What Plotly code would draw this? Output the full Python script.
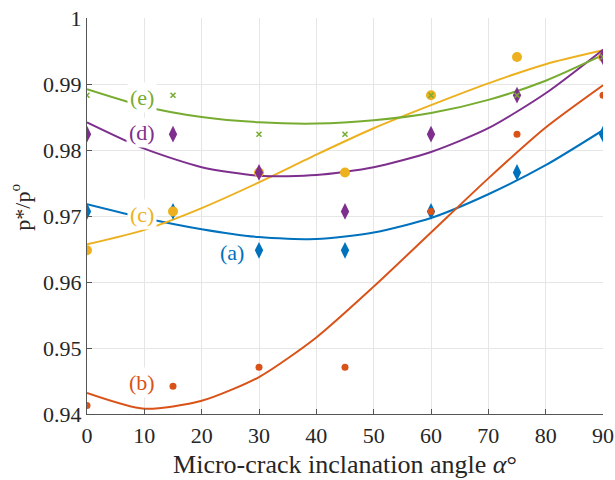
import plotly.graph_objects as go

angles = [0, 15, 30, 45, 60, 75, 90]
a_pts = [0.9707, 0.9707, 0.9648, 0.9648, 0.9707, 0.9766, 0.9824]
b_pts = [0.9413, 0.9442, 0.9471, 0.9471, 0.9707, 0.9824, 0.9883]
c_pts = [0.9648, 0.9707, 0.9766, 0.9766, 0.9883, 0.9941, 0.9941]
d_pts = [0.9824, 0.9824, 0.9766, 0.9707, 0.9824, 0.9883, 0.9941]
e_pts = [0.9883, 0.9883, 0.9824, 0.9824, 0.9883, 0.9883, 0.9941]

fit_x = [0, 10, 20, 30, 40, 50, 60, 70, 80, 90]
a_fit = [0.9718, 0.9697, 0.9680, 0.9668, 0.9665, 0.9675, 0.9697, 0.9733, 0.9777, 0.9830]
b_fit = [0.9432, 0.9408, 0.9420, 0.9456, 0.9516, 0.9593, 0.9675, 0.9757, 0.9834, 0.9898]
c_fit = [0.9657, 0.9679, 0.9712, 0.9751, 0.9793, 0.9833, 0.9868, 0.9901, 0.9930, 0.9951]
d_fit = [0.9842, 0.9802, 0.9774, 0.9761, 0.9762, 0.9774, 0.9797, 0.9833, 0.9886, 0.9952]
e_fit = [0.9892, 0.9866, 0.9850, 0.9842, 0.9840, 0.9845, 0.9856, 0.9876, 0.9905, 0.9944]

labels = ["(a)", "(b)", "(c)", "(d)", "(e)"]
label_x = [25.3, 9.6, 9.6, 9.6, 9.6]
label_y = [0.9644, 0.9448, 0.9702, 0.9826, 0.9880]

y_ticks = [0.94, 0.95, 0.96, 0.97, 0.98, 0.99, 1.0]
y_tick_text = ["0.94", "0.95", "0.96", "0.97", "0.98", "0.99", "1"]
x_ticks = [0, 10, 20, 30, 40, 50, 60, 70, 80, 90]

colors = {"a": "#0072BD", "b": "#D95319", "c": "#EDB120", "d": "#7E2F8E", "e": "#77AC30"}
FONT = "Liberation Serif, Times New Roman, serif"
FS = 22

fig = go.Figure()

fits = [("a", a_fit), ("b", b_fit), ("c", c_fit), ("d", d_fit), ("e", e_fit)]
for k, f in fits:
    fig.add_trace(go.Scatter(x=fit_x, y=f, mode="lines",
                             line=dict(color=colors[k], width=2, shape="spline", smoothing=0.7),
                             showlegend=False, hoverinfo="skip"))

pts = [
    ("a", a_pts, dict(symbol="diamond-tall", size=12)),
    ("b", b_pts, dict(symbol="circle", size=7)),
    ("c", c_pts, dict(symbol="circle", size=10)),
    ("d", d_pts, dict(symbol="diamond-tall", size=12)),
    ("e", e_pts, dict(symbol="x-thin", size=5, line=dict(width=1.5, color=colors["e"]))),
]
for k, p, m in pts:
    m = dict(m)
    m["color"] = colors[k]
    fig.add_trace(go.Scatter(x=angles, y=p, mode="markers", marker=m, showlegend=False))

lab_colors = [colors["a"], colors["b"], colors["c"], colors["d"], colors["e"]]
for t, lx, ly, lc in zip(labels, label_x, label_y, lab_colors):
    fig.add_annotation(x=lx, y=ly, text=t, showarrow=False, font=dict(family=FONT, size=FS, color=lc),
                       bgcolor="white", borderpad=2)

# y-axis title as rotated annotation
fig.add_annotation(xref="paper", yref="paper", x=0, y=0.521, xshift=-67, xanchor="center", yanchor="middle",
                   text="p*/p<sup>o</sup>", textangle=-90, showarrow=False,
                   font=dict(family=FONT, size=FS, color="#262626"))

fig.update_layout(
    width=615, height=480,
    margin=dict(l=87, r=12, t=18, b=66),
    plot_bgcolor="white", paper_bgcolor="white",
    font=dict(family=FONT, size=FS, color="#262626"),
    showlegend=False,
)
fig.update_xaxes(range=[0, 90], tickvals=x_ticks, showgrid=True, gridcolor="#e6e6e6", gridwidth=1,
                 showline=True, linecolor="#555555", linewidth=1, ticks="inside", ticklen=5, tickcolor="#555555",
                 zeroline=False, automargin=False, ticklabelstandoff=2, ticklabeloverflow="allow",
                 title=dict(text="Micro-crack inclanation angle <i>α</i>°", standoff=7),
                 tickfont=dict(family=FONT, size=FS, color="#262626"))
fig.update_yaxes(range=[0.94, 1.0], tickvals=y_ticks, ticktext=y_tick_text, showgrid=True, gridcolor="#e6e6e6",
                 gridwidth=1, showline=True, linecolor="#555555", linewidth=1, ticks="inside", ticklen=5,
                 tickcolor="#555555", zeroline=False, automargin=False, ticklabeloverflow="allow",
                 tickfont=dict(family=FONT, size=FS, color="#262626"))

fig.write_html("out.html", config={"displayModeBar": False},
               post_script="document.body.style.margin='0';")
